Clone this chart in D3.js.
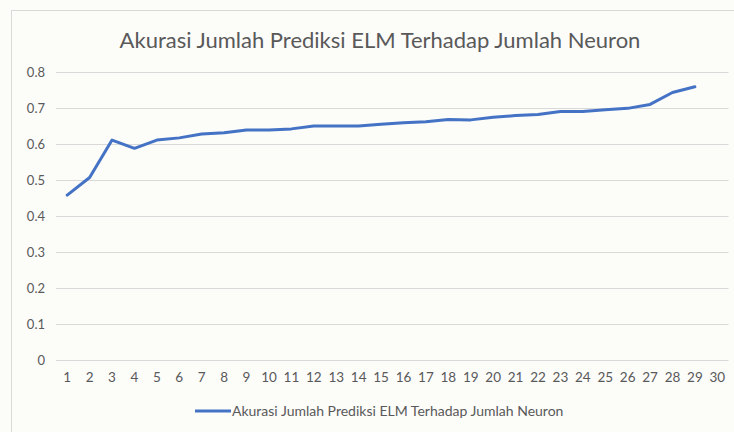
<!DOCTYPE html>
<html><head><meta charset="utf-8">
<script src="https://cdn.jsdelivr.net/npm/d3@7"></script>
<style>html,body{margin:0;padding:0;background:#fcfcf9;}svg{display:block;}</style>
</head><body>
<svg id="chart" width="734" height="432"></svg>
<script>
const title = "Akurasi Jumlah Prediksi ELM Terhadap Jumlah Neuron";
const seriesName = "Akurasi Jumlah Prediksi ELM Terhadap Jumlah Neuron";
const categories = d3.range(1, 31).map(String);
const values = [0.458, 0.507, 0.611, 0.588, 0.611, 0.617, 0.628, 0.631, 0.639, 0.639,
  0.642, 0.65, 0.65, 0.65, 0.655, 0.659, 0.662, 0.668, 0.667, 0.674,
  0.679, 0.682, 0.69, 0.69, 0.695, 0.699, 0.71, 0.743, 0.759];
const yTicks = [0, 0.1, 0.2, 0.3, 0.4, 0.5, 0.6, 0.7, 0.8];

const svg = d3.select("#chart");
const font = "Lato, 'Open Sans', sans-serif";
const textColor = "#595959";

// chart border
svg.append("rect").attr("x", 11.5).attr("y", 10.5).attr("width", 760).attr("height", 460)
  .attr("fill", "#fcfcf9").attr("stroke", "#d9d9d9").attr("stroke-width", 1);

const x = d3.scaleBand().domain(categories).range([56, 728.5]);
const y = d3.scaleLinear().domain([0, 0.8]).range([360, 72]);

// gridlines
svg.append("g").selectAll("line").data(yTicks).join("line")
  .attr("x1", 56).attr("x2", 728.5)
  .attr("y1", d => Math.round(y(d)) + 0.5).attr("y2", d => Math.round(y(d)) + 0.5)
  .attr("stroke", "#d9d9d9").attr("stroke-width", 1);

// y axis labels
const yAxis = d3.axisLeft(y).tickValues(yTicks).tickSize(0).tickPadding(0)
  .tickFormat(d => d === 0 ? "0" : d3.format(".1f")(d));
const gy = svg.append("g").attr("transform", "translate(45,0)").call(yAxis);
gy.select(".domain").remove();
gy.selectAll("text").attr("fill", textColor).style("font-family", font).style("font-size", "13px");

// x axis labels
const xAxis = d3.axisBottom(x).tickSize(0).tickPadding(0);
const gx = svg.append("g").attr("transform", "translate(0,372)").call(xAxis);
gx.select(".domain").remove();
gx.selectAll("text").attr("fill", textColor).style("font-family", font).style("font-size", "13.5px");

// line
const line = d3.line().x((d, i) => x(categories[i]) + x.bandwidth() / 2).y(d => y(d));
svg.append("path").datum(values).attr("d", line)
  .attr("fill", "none").attr("stroke", "#4472C4").attr("stroke-width", 3)
  .attr("stroke-linejoin", "round").attr("stroke-linecap", "round");

// title
svg.append("text").attr("x", 380).attr("y", 48).attr("text-anchor", "middle")
  .attr("fill", textColor).style("font-family", font).style("font-size", "22px").text(title);

// legend
svg.append("line").attr("x1", 195).attr("x2", 231).attr("y1", 411).attr("y2", 411)
  .attr("stroke", "#4472C4").attr("stroke-width", 3);
svg.append("text").attr("x", 232).attr("y", 416).attr("fill", textColor)
  .style("font-family", font).style("font-size", "14px").text(seriesName);
</script>
</body></html>
